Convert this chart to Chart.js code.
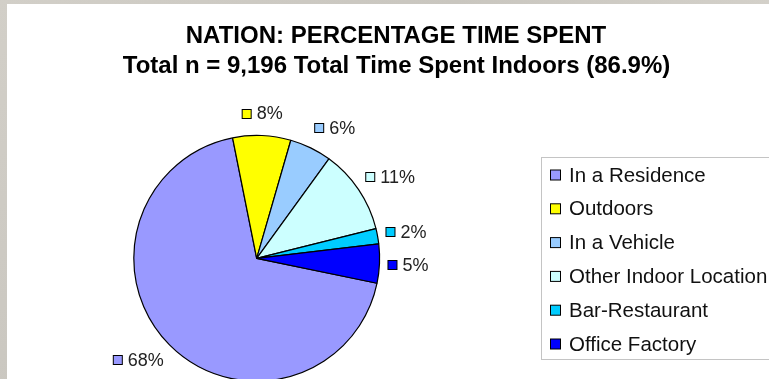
<!DOCTYPE html>
<html>
<head>
<meta charset="utf-8">
<script src="https://cdn.jsdelivr.net/npm/chart.js@4.4.1/dist/chart.umd.min.js"></script>
<style>
  html, body { margin: 0; padding: 0; width: 769px; height: 379px; overflow: hidden;
    background: linear-gradient(135deg, #d2cfc8 0%, #c9c6bf 40%, #d4d1ca 70%, #cac7c0 100%); }
  #wrap { position: absolute; left: 7px; top: 4px; width: 800px; height: 390px; background: #fff; }
  canvas { display: block; }
</style>
</head>
<body>
<div id="wrap"><canvas id="c" width="800" height="390"></canvas></div>
<script>
// ---- data ----
const categories = ["In a Residence", "Outdoors", "In a Vehicle", "Other Indoor Location", "Bar-Restaurant", "Office Factory"];
const shares = [68.4, 7.6, 5.5, 11.1, 2.0, 5.1];
const sliceColors = ["#9999FF", "#FFFF00", "#99CCFF", "#CCFFFF", "#00CCFF", "#0000FF"];
const titleLines = ["NATION: PERCENTAGE TIME SPENT", "Total n = 9,196 Total Time Spent Indoors (86.9%)"];

const FONT = "'Liberation Sans', Arial, sans-serif";

const decorPlugin = {
  id: 'decor',
  beforeDraw(chart) {
    const ctx = chart.ctx;
    ctx.save();
    ctx.fillStyle = '#ffffff';
    ctx.fillRect(0, 0, chart.width, chart.height);
    ctx.restore();
  },
  afterDraw(chart) {
    const ctx = chart.ctx;
    ctx.save();
    // title
    ctx.fillStyle = '#000';
    ctx.textAlign = 'center';
    ctx.textBaseline = 'alphabetic';
    ctx.font = "bold 24px " + FONT;
    ctx.fillText(titleLines[0], 389, 38.5);
    ctx.fillText(titleLines[1], 389.5, 69);

    // legend box
    ctx.strokeStyle = '#c4c4c4';
    ctx.lineWidth = 1;
    ctx.strokeRect(534.5, 153.5, 300, 202);
    ctx.font = "20.5px " + FONT;
    ctx.textAlign = 'left';
    const labels = chart.data.labels;
    const ds = chart.data.datasets[0];
    labels.forEach((lab, i) => {
      const y = 171 + i * 33.8;
      ctx.fillStyle = ds.backgroundColor[i];
      ctx.fillRect(543.5, y - 5, 10, 10);
      ctx.strokeStyle = '#000';
      ctx.strokeRect(543.5, y - 5, 10, 10);
      ctx.fillStyle = '#111';
      ctx.fillText(lab, 562, y + 6.5);
    });

    // data labels with keys
    const meta = chart.getDatasetMeta(0);
    ctx.font = "18px " + FONT;
    ctx.textBaseline = 'middle';
    meta.data.forEach((arc, i) => {
      const th = (arc.startAngle + arc.endAngle) / 2;
      const r = arc.outerRadius;
      const c = Math.cos(th), s = Math.sin(th);
      const txt = Math.round(ds.data[i]) + '%';
      const tw = ctx.measureText(txt).width;
      const bw = 10 + 5 + tw;
      const ax = arc.x + (r + 8) * c;
      const cy = arc.y + (r + 17) * s + 5 * s;
      let left;
      if (c > 0.2) left = ax;
      else if (c < -0.2) left = ax - bw;
      else left = ax - bw / 2;
      ctx.fillStyle = ds.backgroundColor[i];
      ctx.fillRect(left + 0.5, Math.round(cy - 5) + 0.5, 9, 9);
      ctx.strokeStyle = '#000';
      ctx.lineWidth = 1;
      ctx.strokeRect(left + 0.5, Math.round(cy - 5) + 0.5, 9, 9);
      ctx.fillStyle = '#222';
      ctx.textAlign = 'left';
      ctx.fillText(txt, left + 15, cy + 1);
    });
    ctx.restore();
  }
};

new Chart(document.getElementById('c'), {
  type: 'pie',
  data: {
    labels: categories,
    datasets: [{
      data: shares,
      backgroundColor: sliceColors,
      borderColor: '#000',
      borderWidth: 1.2
    }]
  },
  options: {
    responsive: false,
    animation: false,
    events: [],
    devicePixelRatio: 1,
    rotation: 101.7,
    layout: { padding: { left: 110, right: 410.6, top: 130.8, bottom: 12.2 } },
    plugins: { legend: { display: false }, title: { display: false }, tooltip: { enabled: false } }
  },
  plugins: [decorPlugin]
});
</script>
</body>
</html>
